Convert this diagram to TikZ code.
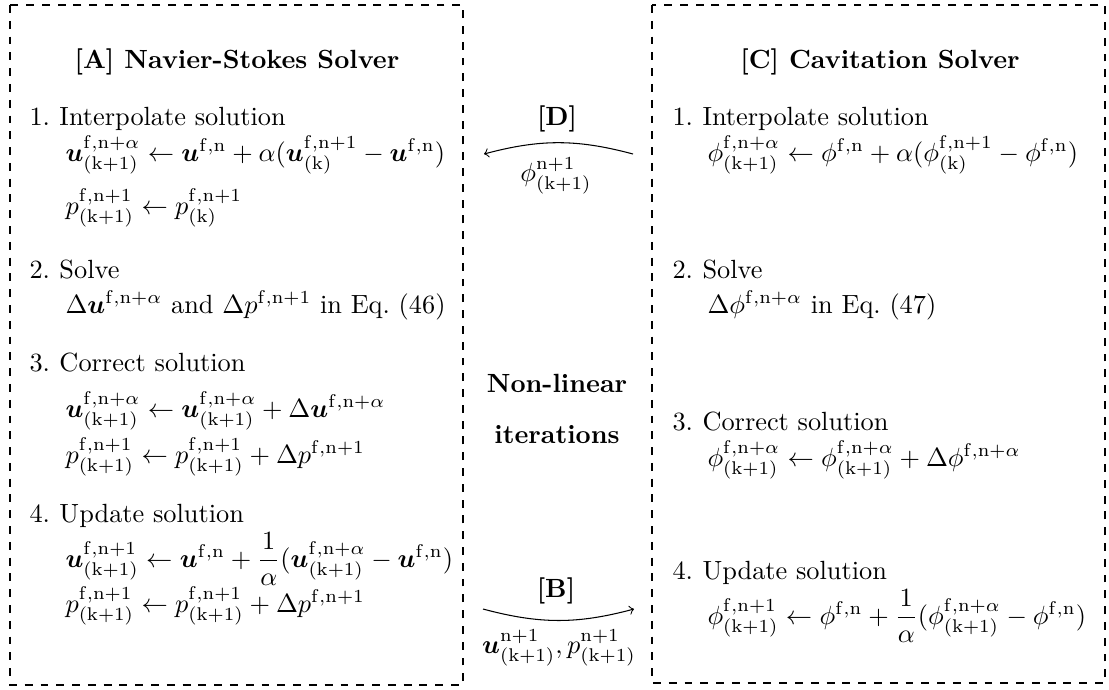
\documentclass[tikz,border=0pt]{standalone}
\usepackage{amsmath}
\usepackage{amssymb}
\usepackage{tikz}

\newcommand{\uvel}{\boldsymbol{u}}
\newcommand{\kone}{\mathrm{(k+1)}}
\newcommand{\steplabel}[1]{\makebox[11.4pt][l]{#1}}

\begin{document}
\begin{tikzpicture}[x=0.38pt, y=-0.38pt,
    solverbox/.style={draw, dashed},
    txt/.style={inner sep=0pt, anchor=base west},
    ttl/.style={inner sep=0pt, anchor=base, font=\bfseries},
    midtxt/.style={inner sep=0pt, anchor=base}]
    \useasboundingbox (0,0) rectangle (1109,689);

    % Dashed frames of the two solvers
    \draw[solverbox] (10,5) rectangle (463,685);
    \draw[solverbox] (652,5) rectangle (1105,683);

    % [A] Navier-Stokes solver steps
    \node[ttl] (ns-title) at (237,68) {[A] Navier-Stokes Solver};
    \node[txt] (ns-s1) at (29,125) {\steplabel{1.}Interpolate solution};
    \node[txt] (ns-s1u) at (65,161)
        {$\uvel^{\mathrm{f,n+\alpha}}_{\kone} \leftarrow \uvel^{\mathrm{f,n}} + \alpha(\uvel^{\mathrm{f,n+1}}_{\mathrm{(k)}} - \uvel^{\mathrm{f,n}})$};
    \node[txt] (ns-s1p) at (65,214)
        {$p^{\mathrm{f,n+1}}_{\kone} \leftarrow p^{\mathrm{f,n+1}}_{\mathrm{(k)}}$};
    \node[txt] (ns-s2) at (29,278) {\steplabel{2.}Solve};
    \node[txt] (ns-s2d) at (65,313)
        {$\Delta\uvel^{\mathrm{f,n+\alpha}}$ and $\Delta p^{\mathrm{f,n+1}}$ in Eq.~(46)};
    \node[txt] (ns-s3) at (29,371) {\steplabel{3.}Correct solution};
    \node[txt] (ns-s3u) at (65,417)
        {$\uvel^{\mathrm{f,n+\alpha}}_{\kone} \leftarrow \uvel^{\mathrm{f,n+\alpha}}_{\kone} + \Delta\uvel^{\mathrm{f,n+\alpha}}$};
    \node[txt] (ns-s3p) at (65,463)
        {$p^{\mathrm{f,n+1}}_{\kone} \leftarrow p^{\mathrm{f,n+1}}_{\kone} + \Delta p^{\mathrm{f,n+1}}$};
    \node[txt] (ns-s4) at (29,522) {\steplabel{4.}Update solution};
    \node[txt] (ns-s4u) at (65,567)
        {$\uvel^{\mathrm{f,n+1}}_{\kone} \leftarrow \uvel^{\mathrm{f,n}} + \dfrac{1}{\alpha}(\uvel^{\mathrm{f,n+\alpha}}_{\kone} - \uvel^{\mathrm{f,n}})$};
    \node[txt] (ns-s4p) at (65,612)
        {$p^{\mathrm{f,n+1}}_{\kone} \leftarrow p^{\mathrm{f,n+1}}_{\kone} + \Delta p^{\mathrm{f,n+1}}$};

    % [C] Cavitation solver steps
    \node[ttl] (cs-title) at (880,68) {[C] Cavitation Solver};
    \node[txt] (cs-s1) at (672,125) {\steplabel{1.}Interpolate solution};
    \node[txt] (cs-s1f) at (707,161)
        {$\phi^{\mathrm{f,n+\alpha}}_{\kone} \leftarrow \phi^{\mathrm{f,n}} + \alpha(\phi^{\mathrm{f,n+1}}_{\mathrm{(k)}} - \phi^{\mathrm{f,n}})$};
    \node[txt] (cs-s2) at (672,278) {\steplabel{2.}Solve};
    \node[txt] (cs-s2d) at (707,313)
        {$\Delta\phi^{\mathrm{f,n+\alpha}}$ in Eq.~(47)};
    \node[txt] (cs-s3) at (672,430) {\steplabel{3.}Correct solution};
    \node[txt] (cs-s3f) at (707,466)
        {$\phi^{\mathrm{f,n+\alpha}}_{\kone} \leftarrow \phi^{\mathrm{f,n+\alpha}}_{\kone} + \Delta\phi^{\mathrm{f,n+\alpha}}$};
    \node[txt] (cs-s4) at (672,579) {\steplabel{4.}Update solution};
    \node[txt] (cs-s4f) at (707,624)
        {$\phi^{\mathrm{f,n+1}}_{\kone} \leftarrow \phi^{\mathrm{f,n}} + \dfrac{1}{\alpha}(\phi^{\mathrm{f,n+\alpha}}_{\kone} - \phi^{\mathrm{f,n}})$};

    % Coupling between the solvers
    \node[midtxt, font=\bfseries] (d-tag) at (557,125) {[D]};
    \node[midtxt] (d-val) at (556,181) {$\phi^{\mathrm{n+1}}_{\kone}$};
    \coordinate (d-from) at (633,154);
    \coordinate (d-to) at (484,154);
    \draw[->] (d-from) to[bend right=15] (d-to);

    \node[midtxt, font=\bfseries] (nl-top) at (557,392) {Non-linear};
    \node[midtxt, font=\bfseries] (nl-bot) at (557,443) {iterations};

    \node[midtxt, font=\bfseries] (b-tag) at (556,597) {[B]};
    \node[midtxt] (b-val) at (559,653) {$\uvel^{\mathrm{n+1}}_{\kone}, p^{\mathrm{n+1}}_{\kone}$};
    \coordinate (b-from) at (483,609);
    \coordinate (b-to) at (634,609);
    \draw[->] (b-from) to[bend right=15] (b-to);
\end{tikzpicture}
\end{document}
